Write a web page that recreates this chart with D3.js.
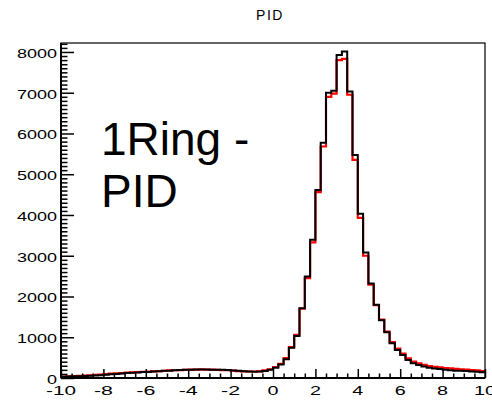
<!DOCTYPE html>
<html>
<head>
<meta charset="utf-8">
<script src="https://cdn.jsdelivr.net/npm/d3@7"></script>
<style>
  body { margin: 0; background: #fff; }
  svg { display: block; font-family: "Liberation Sans", Arial, sans-serif; }
  .lbl { font-size: 13px; fill: #000; }
</style>
</head>
<body>
<script>
// 80 bins of width 0.25 from -10 to 10 (low edges)
var binLo = d3.range(-10, 10, 0.25)
var binW = 0.25

// black histogram
var pidBlack = [
  30, 35, 40, 45, 50, 55, 60, 70, 80, 90,
  100, 110, 120, 130, 135, 145, 150, 160, 165, 175,
  180, 190, 195, 200, 205, 210, 210, 210, 205, 205,
  200, 195, 185, 175, 165, 160, 155, 160, 170, 200,
  250, 330, 460, 740, 1030, 1710, 2490, 3390, 4610, 5770,
  7000, 7050, 7925, 8010, 7030, 5470, 4030, 3080, 2320, 1800,
  1420, 1120, 850, 690, 565, 440, 360, 320, 280, 250,
  235, 220, 205, 190, 180, 175, 170, 160, 155, 140
]

// red histogram
var pidRed = [
  35, 40, 45, 55, 60, 65, 75, 85, 95, 105,
  115, 120, 130, 140, 145, 150, 155, 165, 170, 175,
  185, 190, 195, 200, 205, 205, 210, 205, 205, 200,
  195, 190, 180, 170, 165, 160, 160, 165, 185, 215,
  270, 350, 490, 760, 1060, 1700, 2450, 3330, 4560, 5680,
  6900, 6980, 7800, 7830, 6950, 5350, 3930, 3000, 2290, 1790,
  1430, 1140, 880, 720, 600, 480, 400, 360, 320, 295,
  275, 260, 245, 235, 225, 215, 205, 195, 185, 170
]

var xMajor = [-10, -8, -6, -4, -2, 0, 2, 4, 6, 8, 10]
var yMajor = [0, 1000, 2000, 3000, 4000, 5000, 6000, 7000, 8000]

var W = 492, H = 400
var plotL = 61, plotR = 485, plotT = 43, plotB = 378

var svg = d3.select("body").append("svg")
  .attr("width", W)
  .attr("height", H)

var x = d3.scaleLinear().domain([-10, 10]).range([plotL, plotR])
var y = d3.scaleLinear().domain([0, 8220]).range([plotB, plotT])

svg.append("clipPath").attr("id", "frame")
  .append("rect")
  .attr("x", plotL).attr("y", plotT)
  .attr("width", plotR - plotL).attr("height", plotB - plotT)

// title
svg.append("text")
  .attr("x", 270).attr("y", 20)
  .attr("text-anchor", "middle")
  .attr("font-size", 14)
  .attr("letter-spacing", 1.5)
  .text("PID")

function stepPoints(vals) {
  var pts = vals.map(function (v, i) { return [binLo[i], v] })
  pts.push([binLo[vals.length - 1] + binW, vals[vals.length - 1]])
  return pts
}

var line = d3.line()
  .x(function (d) { return x(d[0]) })
  .y(function (d) { return y(d[1]) })
  .curve(d3.curveStepAfter)

var plot = svg.append("g").attr("clip-path", "url(#frame)")

plot.append("path")
  .attr("d", line(stepPoints(pidRed)))
  .attr("fill", "none")
  .attr("stroke", "#ff0000")
  .attr("stroke-width", 2.2)

plot.append("path")
  .attr("d", line(stepPoints(pidBlack)))
  .attr("fill", "none")
  .attr("stroke", "#000")
  .attr("stroke-width", 2)

// frame
svg.append("rect")
  .attr("x", plotL).attr("y", plotT)
  .attr("width", plotR - plotL).attr("height", plotB - plotT)
  .attr("fill", "none")
  .attr("stroke", "#000")
  .attr("stroke-width", 1.2)

// axis lines
svg.append("line")
  .attr("x1", plotL).attr("x2", plotL).attr("y1", plotT).attr("y2", plotB)
  .attr("stroke", "#000").attr("stroke-width", 2)
svg.append("line")
  .attr("x1", plotL).attr("x2", plotR).attr("y1", plotB).attr("y2", plotB)
  .attr("stroke", "#000").attr("stroke-width", 2)

// y ticks (pointing into the frame)
var yAxis = d3.axisRight(y)
  .tickValues(d3.range(0, 8201, 100))
  .tickSize(0)
  .tickFormat("")
var gy = svg.append("g").attr("transform", "translate(" + plotL + ",0)").call(yAxis)
gy.select(".domain").remove()
gy.selectAll(".tick line")
  .attr("x2", function (d) { return d % 1000 == 0 ? 13 : 6.5 })
  .attr("stroke-width", 1.5)

// x ticks (pointing up into the frame)
var xAxis = d3.axisTop(x)
  .tickValues(d3.range(-10, 10.01, 0.5))
  .tickSize(0)
  .tickFormat("")
var gx = svg.append("g").attr("transform", "translate(0," + plotB + ")").call(xAxis)
gx.select(".domain").remove()
gx.selectAll(".tick line")
  .attr("y2", function (d) { return Math.abs(d % 2) < 1e-9 ? -9 : -4.5 })
  .attr("stroke-width", 1.5)

// y labels
svg.selectAll("text.ylab")
  .data(yMajor)
  .enter()
  .append("text")
  .attr("class", "lbl ylab")
  .attr("x", 57)
  .attr("y", function (d) { return y(d) + 6 })
  .attr("text-anchor", "end")
  .attr("textLength", function (d) { return String(d).length * 10 })
  .attr("lengthAdjust", "spacingAndGlyphs")
  .text(function (d) { return d })

// x labels
svg.selectAll("text.xlab")
  .data(xMajor)
  .enter()
  .append("text")
  .attr("class", "lbl xlab")
  .attr("x", function (d) { return x(d) })
  .attr("y", 395)
  .attr("text-anchor", "middle")
  .attr("textLength", function (d) {
    var s = String(Math.abs(d))
    return s.length * 11 + (d < 0 ? 8 : 0)
  })
  .attr("lengthAdjust", "spacingAndGlyphs")
  .text(function (d) { return d })

// annotation
var note = svg.append("text")
  .attr("font-size", 46)
note.append("tspan").attr("x", 101).attr("y", 155).text("1Ring -")
note.append("tspan").attr("x", 101).attr("y", 207).text("PID")
</script>
</body>
</html>
